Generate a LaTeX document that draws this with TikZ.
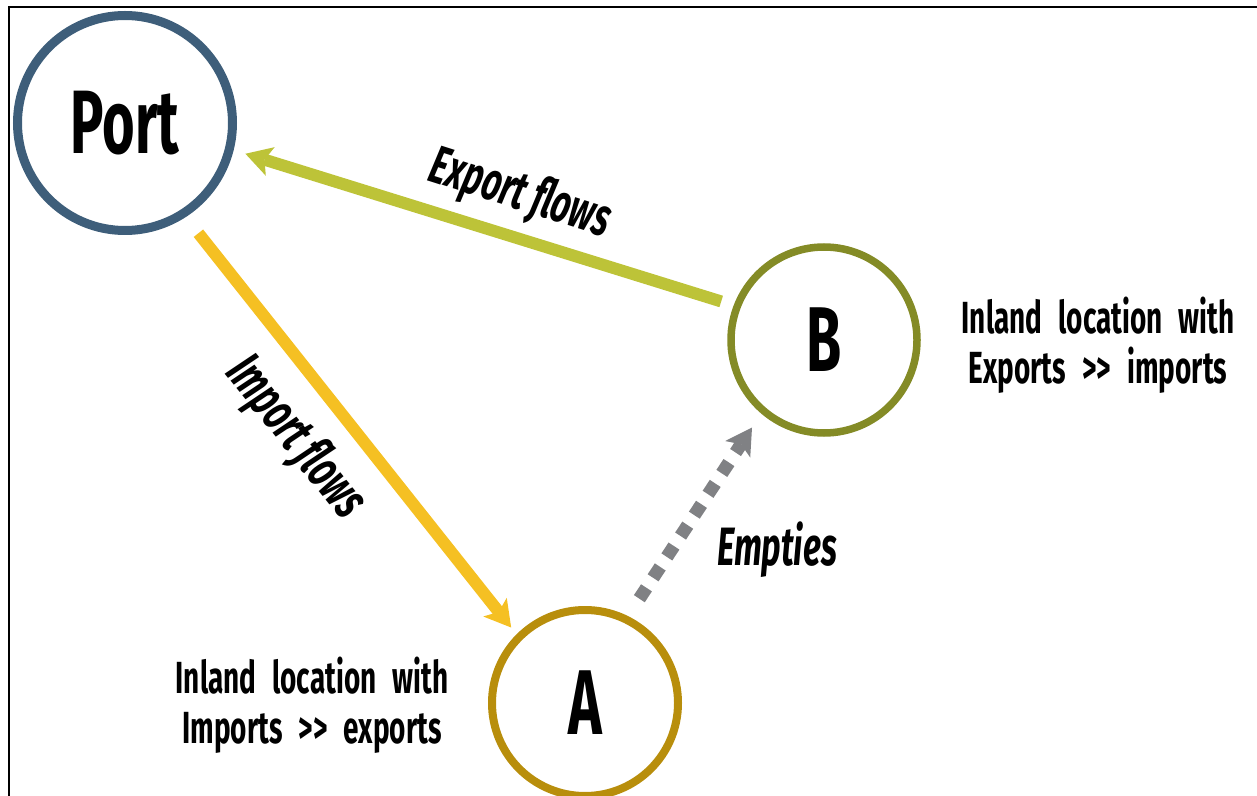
\documentclass[tikz,border=0pt]{standalone}
\usepackage{fontspec}
\newfontfamily\agency[FakeStretch=0.62]{Fira Sans}
\usetikzlibrary{arrows.meta}

\definecolor{portblue}{RGB}{62,94,122}
\definecolor{siteA}{RGB}{184,142,12}
\definecolor{siteB}{RGB}{132,139,38}
\definecolor{exportgreen}{RGB}{189,195,56}
\definecolor{importyellow}{RGB}{245,192,35}
\definecolor{emptygray}{RGB}{128,129,132}
\newcommand\infofont{\agency\bfseries\fontsize{22.5}{25}\selectfont\spaceskip=0.36em\relax}

\begin{document}
\begin{tikzpicture}[x=0.5pt,y=-0.5pt,
    site/.style={circle,inner sep=0pt,font=\agency\bfseries\fontsize{46}{46}\selectfont},
    flow/.style={line width=6pt,-{Stealth[length=13pt,width=15pt,inset=3pt,line width=0pt]}},
    flowlabel/.style={font=\agency\bfseries\itshape\fontsize{27}{27}\selectfont},
    infolabel/.style={align=center,font=\infofont}]
    \useasboundingbox (0,0) rectangle (1257,796);

    % frame, cut at right and bottom
    \draw[line width=1pt] (9,796) -- (9,7) -- (1257,7);

    \node[site,draw=portblue,line width=4.5pt,minimum size=107.5pt,font=\agency\bfseries\fontsize{45}{45}\selectfont] (port) at (125,123) {Port};
    \node[site,draw=siteA,line width=4pt,minimum size=93pt] (A) at (585,703) {A};
    \node[site,draw=siteB,line width=3.75pt,minimum size=93pt] (B) at (824,340) {B};

    % flows
    \draw[flow,draw=exportgreen,shorten <=6.5pt,shorten >=6pt,transform canvas={shift={(2,-6)}}] (B) -- (port);
    \draw[flow,draw=importyellow,shorten <=10pt,shorten >=4pt,transform canvas={shift={(-8.6,6.8)}}] (port) -- (A);
    \draw[flow,draw=emptygray,line width=6.5pt,dash pattern=on 6.5pt off 6pt,shorten <=10pt,shorten >=8pt,transform canvas={shift={(-10,-6.6)}}] (A) -- (B);

    \node[flowlabel,rotate=-17.7] (exportlabel) at (520,195) {Export flows};
    \node[flowlabel,rotate=-51.2] (importlabel) at (295,438) {Import flows};
    \node[flowlabel] (emptieslabel) at (777,550) {Empties};

    \node[infolabel] (infoB) at (1098,345) {Inland location with\\Exports  >{}> imports};
    \node[infolabel] (infoA) at (312,705) {Inland location with\\Imports  >{}> exports};
\end{tikzpicture}
\end{document}
